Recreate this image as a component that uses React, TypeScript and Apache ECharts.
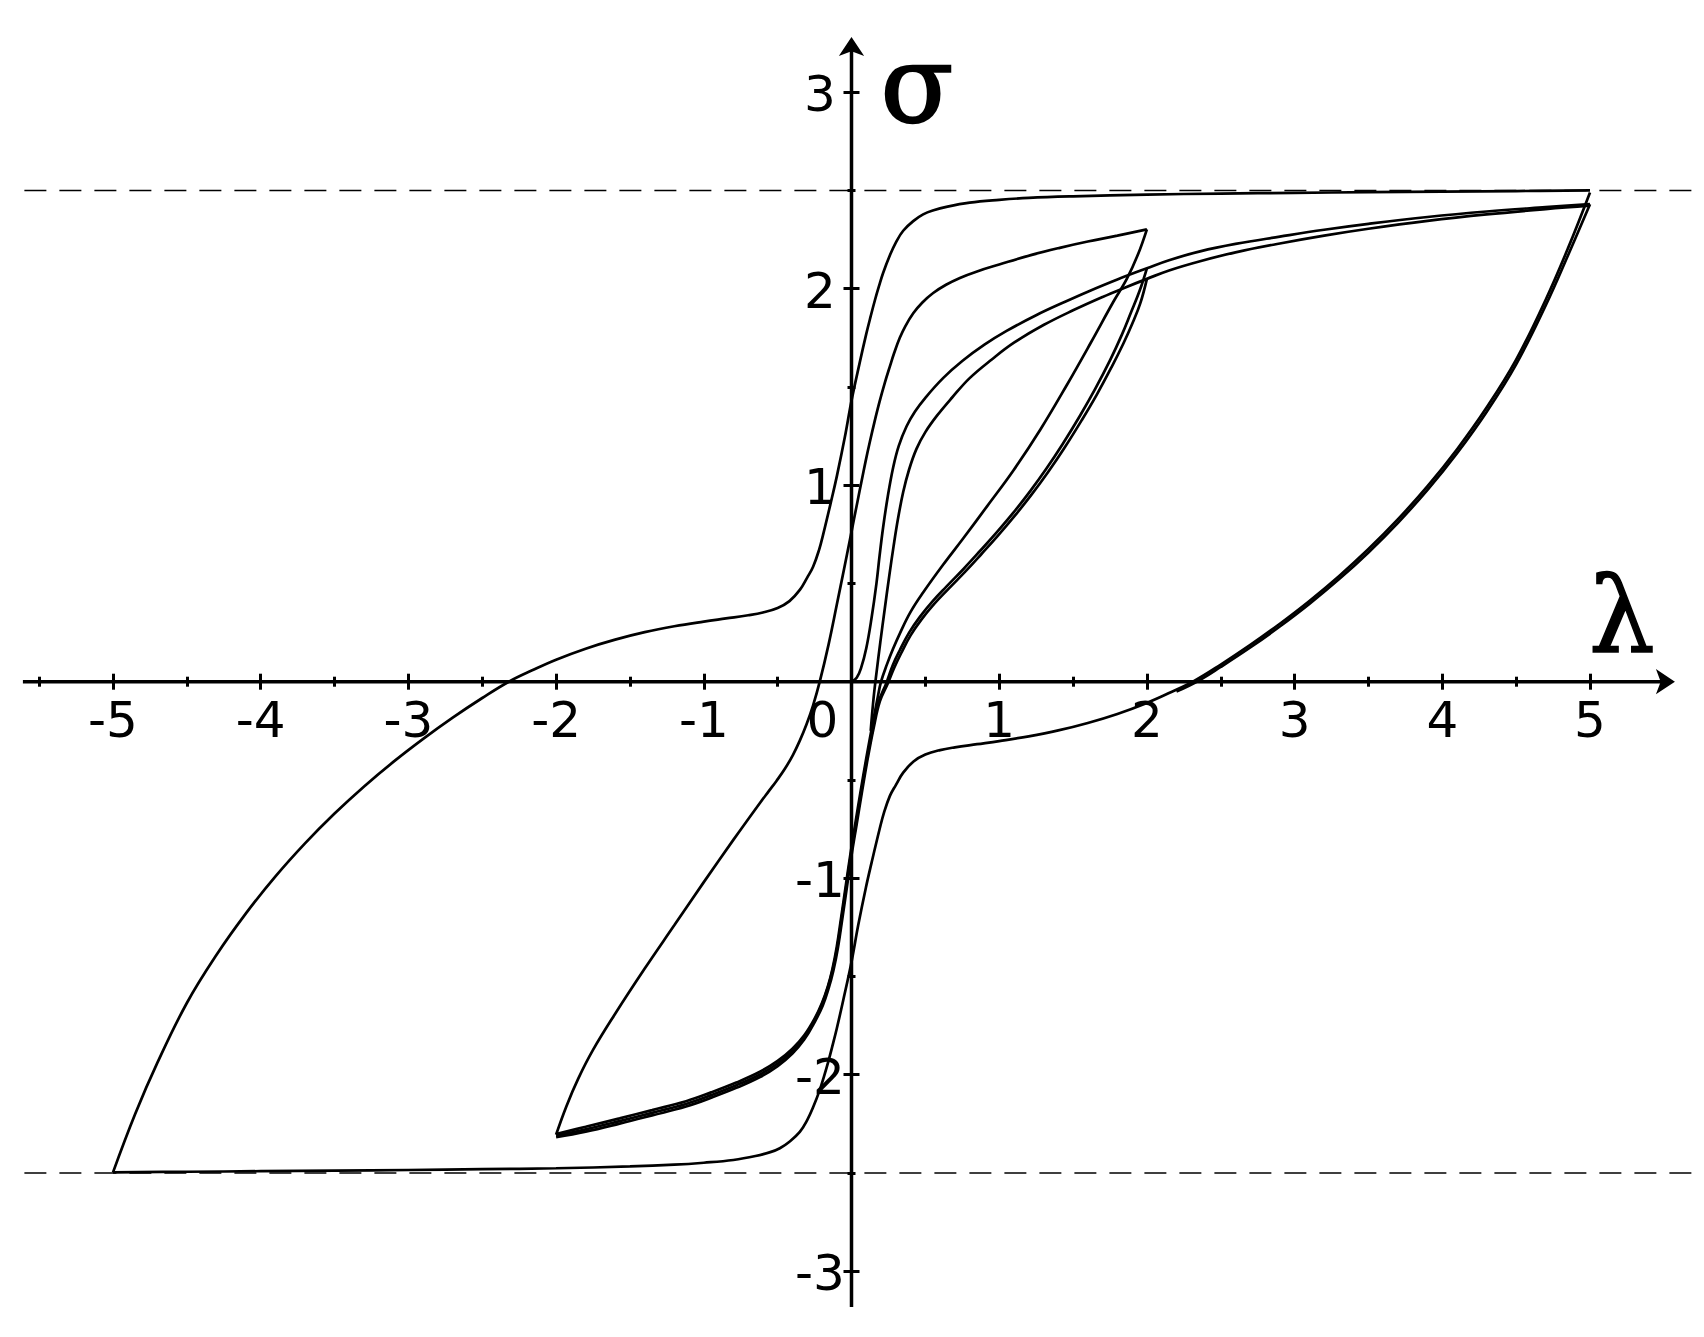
import { useEffect, useRef } from 'react';
import * as echarts from 'echarts';

// ---- axis extents (data units) ----
const X_TICK_RANGE = [-6, 6];
const Y_TICK_RANGE = [-4, 4];
const X_AXIS_LINE = [-5.61, 5.53];
const Y_AXIS_LINE = [-3.182, 3.245];
const X_ARROW_TIP = [5.575, 0];
const Y_ARROW_TIP = [0, 3.281];
const DASH_LEVELS = [2.5, -2.5];
const DASH_SPAN = [-5.6, 6];

// ---- tick labels ----
const X_LABELS = [-5, -4, -3, -2, -1, 1, 2, 3, 4, 5];
const ORIGIN_LABEL = '0';
const Y_LABELS = [-3, -2, -1, 1, 2, 3];

// ---- curves [lambda, sigma] ----
const bigDescending = [
  [5.0, 2.5], [4.5, 2.497], [4.0, 2.494], [3.5, 2.491], [3.0, 2.488], [2.5, 2.484], [2.0, 2.479],
  [1.5, 2.47], [1.2, 2.462], [1.0, 2.452], [0.8, 2.438], [0.65, 2.418], [0.55, 2.398], [0.485, 2.378],
  [0.42, 2.345], [0.35, 2.295], [0.3, 2.235], [0.26, 2.17], [0.214, 2.08], [0.185, 2.01], [0.158, 1.94],
  [0.13, 1.86], [0.1, 1.77], [0.056, 1.625], [0.0, 1.43], [-0.045, 1.245], [-0.098, 1.05], [-0.136, 0.925],
  [-0.19, 0.755], [-0.22, 0.67], [-0.26, 0.585], [-0.3, 0.53], [-0.35, 0.467], [-0.42, 0.41],
  [-0.5, 0.375], [-0.6, 0.352], [-0.7, 0.338], [-0.85, 0.322], [-1.0, 0.306], [-1.2, 0.282],
  [-1.4, 0.252], [-1.6, 0.214], [-1.8, 0.168], [-2.0, 0.112], [-2.15, 0.062], [-2.32, 0.0],
  [-2.5, -0.083], [-2.7, -0.183], [-2.9, -0.291], [-3.1, -0.407], [-3.3, -0.533], [-3.5, -0.671],
  [-3.7, -0.823], [-3.9, -0.991], [-4.1, -1.179], [-4.3, -1.391], [-4.5, -1.635], [-4.7, -1.94],
  [-4.85, -2.2], [-5.0, -2.497],
];

const bigAscending = [
  [-5.0, -2.497], [-4.5, -2.494], [-4.0, -2.491], [-3.5, -2.488], [-3.0, -2.485], [-2.5, -2.481],
  [-2.0, -2.476], [-1.5, -2.467], [-1.2, -2.458], [-1.0, -2.448], [-0.8, -2.434], [-0.65, -2.414],
  [-0.55, -2.394], [-0.485, -2.374], [-0.42, -2.341], [-0.35, -2.291], [-0.3, -2.231], [-0.26, -2.166],
  [-0.214, -2.076], [-0.185, -2.006], [-0.158, -1.936], [-0.13, -1.856], [-0.1, -1.766], [-0.056, -1.621],
  [0.0, -1.426], [0.045, -1.241], [0.098, -1.046], [0.136, -0.921], [0.19, -0.751], [0.22, -0.666],
  [0.26, -0.581], [0.3, -0.526], [0.35, -0.463], [0.42, -0.406], [0.5, -0.371], [0.6, -0.348],
  [0.7, -0.334], [0.85, -0.318], [1.0, -0.302], [1.2, -0.278], [1.4, -0.248], [1.6, -0.21],
  [1.8, -0.164], [2.0, -0.108], [2.15, -0.058], [2.32, 0.004], [2.5, 0.087], [2.7, 0.187], [2.9, 0.295],
  [3.1, 0.411], [3.3, 0.537], [3.5, 0.675], [3.7, 0.827], [3.9, 0.995], [4.1, 1.183], [4.3, 1.395],
  [4.5, 1.639], [4.7, 1.944], [4.85, 2.204], [5.0, 2.49],
];

const bigAscendingRepeat = [
  [2.2, -0.05], [2.35, 0.005], [2.5, 0.075], [2.7, 0.174], [2.9, 0.281], [3.1, 0.396], [3.3, 0.521],
  [3.5, 0.658], [3.7, 0.809], [3.9, 0.976], [4.1, 1.163], [4.3, 1.373], [4.5, 1.615], [4.7, 1.915],
  [4.85, 2.168], [5.0, 2.43],
];

const innerDescending = [
  [2.0, 2.302], [1.8, 2.27], [1.6, 2.24], [1.41, 2.208], [1.22, 2.172], [1.0, 2.123], [0.85, 2.088],
  [0.734, 2.055], [0.64, 2.02], [0.553, 1.978], [0.48, 1.93], [0.418, 1.875], [0.365, 1.81],
  [0.327, 1.75], [0.29, 1.675], [0.26, 1.605], [0.225, 1.52], [0.19, 1.425], [0.155, 1.32], [0.124, 1.22],
  [0.095, 1.12], [0.068, 1.02], [0.04, 0.915], [0.015, 0.82], [-0.01, 0.725], [-0.05, 0.575], [-0.1, 0.39],
  [-0.155, 0.19], [-0.215, 0.0], [-0.26, -0.12], [-0.305, -0.218], [-0.35, -0.3], [-0.396, -0.372],
  [-0.45, -0.442], [-0.508, -0.505], [-0.56, -0.557], [-0.62, -0.617], [-0.8, -0.805], [-1.0, -1.02],
  [-1.2, -1.24], [-1.4, -1.46], [-1.6, -1.69], [-1.75, -1.874], [-1.85, -2.02], [-1.93, -2.16],
  [-2.0, -2.305],
];

const innerAscendingHigh = [
  [-2.0, -2.302], [-1.8, -2.265], [-1.57, -2.222], [-1.35, -2.18], [-1.12, -2.135], [-0.95, -2.09],
  [-0.78, -2.04], [-0.62, -1.985], [-0.5, -1.93], [-0.4, -1.868], [-0.32, -1.8], [-0.25, -1.715],
  [-0.2, -1.635], [-0.16, -1.55], [-0.13, -1.465], [-0.1, -1.35], [-0.07, -1.2], [-0.04, -1.045],
  [-0.01, -0.89], [0.025, -0.725], [0.06, -0.565], [0.1, -0.39], [0.14, -0.225], [0.175, -0.09],
  [0.2, 0.0], [0.24, 0.088], [0.28, 0.165], [0.327, 0.245], [0.4, 0.355], [0.486, 0.455], [0.62, 0.595],
  [0.757, 0.73], [0.92, 0.895], [1.096, 1.075], [1.28, 1.285], [1.458, 1.51], [1.62, 1.725],
  [1.774, 1.935], [1.864, 2.05], [1.94, 2.175], [2.0, 2.302],
];

const innerAscendingMid = [
  [-2.0, -2.31], [-1.8, -2.278], [-1.57, -2.236], [-1.35, -2.194], [-1.12, -2.149], [-0.95, -2.104],
  [-0.78, -2.054], [-0.62, -1.999], [-0.5, -1.943], [-0.4, -1.88], [-0.32, -1.81], [-0.25, -1.724],
  [-0.2, -1.642], [-0.16, -1.556], [-0.127, -1.465], [-0.096, -1.35], [-0.066, -1.2], [-0.036, -1.045],
  [-0.006, -0.89], [0.03, -0.725], [0.065, -0.565], [0.105, -0.39], [0.145, -0.235], [0.185, -0.1],
  [0.237, -0.005], [0.28, 0.085], [0.327, 0.16], [0.39, 0.25], [0.463, 0.33], [0.55, 0.41],
  [0.644, 0.485], [0.76, 0.575], [0.87, 0.665], [0.98, 0.757], [1.096, 0.86], [1.21, 0.97],
  [1.32, 1.085], [1.43, 1.21], [1.548, 1.355], [1.65, 1.49], [1.75, 1.635], [1.83, 1.765],
  [1.89, 1.875], [1.95, 1.988], [2.0, 2.104],
];

const innerAscendingLow = [
  [-2.0, -2.318], [-1.8, -2.29], [-1.57, -2.249], [-1.35, -2.207], [-1.12, -2.162], [-0.95, -2.117],
  [-0.78, -2.067], [-0.62, -2.012], [-0.5, -1.956], [-0.4, -1.892], [-0.32, -1.821], [-0.25, -1.733],
  [-0.195, -1.649], [-0.155, -1.561], [-0.122, -1.468], [-0.091, -1.35], [-0.061, -1.2], [-0.031, -1.045],
  [-0.001, -0.89], [0.035, -0.725], [0.07, -0.565], [0.11, -0.39], [0.15, -0.235], [0.192, -0.1],
  [0.245, -0.01], [0.29, 0.072], [0.337, 0.146], [0.4, 0.236], [0.473, 0.316], [0.56, 0.396],
  [0.655, 0.471], [0.77, 0.56], [0.88, 0.65], [0.99, 0.742], [1.106, 0.845], [1.22, 0.953],
  [1.33, 1.066], [1.44, 1.188], [1.558, 1.33], [1.66, 1.46], [1.76, 1.6], [1.84, 1.72], [1.9, 1.82],
  [1.955, 1.925], [2.0, 2.05],
];

const loadingCurveA = [
  [0.0, 0.0], [0.035, 0.02], [0.065, 0.07], [0.1, 0.17], [0.135, 0.32], [0.169, 0.5], [0.19, 0.64],
  [0.214, 0.785], [0.245, 0.94], [0.282, 1.09], [0.32, 1.2], [0.373, 1.3], [0.43, 1.375], [0.5, 1.445],
  [0.62, 1.545], [0.75, 1.632], [0.9, 1.715], [1.05, 1.785], [1.25, 1.865], [1.45, 1.935], [1.6, 1.985],
  [1.8, 2.047], [2.0, 2.104], [2.15, 2.145], [2.36, 2.19], [2.6, 2.228], [2.9, 2.265], [3.2, 2.3],
  [3.5, 2.33], [3.9, 2.365], [4.3, 2.393], [4.7, 2.415], [5.0, 2.43],
];

const loadingCurveB = [
  [0.13, -0.25], [0.15, -0.08], [0.17, 0.05], [0.195, 0.2], [0.225, 0.37], [0.255, 0.535], [0.285, 0.69],
  [0.315, 0.83], [0.35, 0.965], [0.39, 1.08], [0.44, 1.185], [0.5, 1.27], [0.58, 1.355], [0.68, 1.445],
  [0.8, 1.545], [0.95, 1.64], [1.1, 1.725], [1.3, 1.815], [1.5, 1.89], [1.7, 1.958], [1.85, 2.005],
  [2.0, 2.05], [2.15, 2.093], [2.36, 2.14], [2.6, 2.185], [2.9, 2.23], [3.2, 2.27], [3.5, 2.305],
  [3.9, 2.345], [4.3, 2.378], [4.7, 2.405], [5.0, 2.422],
];

const CURVES = [
  bigDescending, bigAscending, bigAscendingRepeat, innerDescending,
  innerAscendingHigh, innerAscendingMid, innerAscendingLow, loadingCurveA, loadingCurveB,
];

// pixel layout
const ORIGIN_X = 851.5;
const ORIGIN_Y = 681.7;
const PX_X = 147.7;
const PX_Y = 196.5;

const BLACK = '#000';
const LABEL_FONT = 'DejaVu Sans';
const CLEAR = 'rgba(0,0,0,0)';

export default function App() {
  const ref = useRef<HTMLDivElement>(null);

  useEffect(() => {
    document.body.style.margin = '0';
    const chart = echarts.init(ref.current!, null, { renderer: 'svg' });

    const gridLeft = ORIGIN_X + X_TICK_RANGE[0] * PX_X;
    const gridWidth = (X_TICK_RANGE[1] - X_TICK_RANGE[0]) * PX_X;
    const gridTop = ORIGIN_Y - Y_TICK_RANGE[1] * PX_Y;
    const gridHeight = (Y_TICK_RANGE[1] - Y_TICK_RANGE[0]) * PX_Y;

    const tickStyle = { color: BLACK, width: 3 };

    const xBase = {
      type: 'value', min: X_TICK_RANGE[0], max: X_TICK_RANGE[1], interval: 1,
      position: 'bottom', splitLine: { show: false }, axisLabel: { show: false },
    };
    const yBase = {
      type: 'value', min: Y_TICK_RANGE[0], max: Y_TICK_RANGE[1], interval: 1,
      position: 'left', splitLine: { show: false }, axisLabel: { show: false },
    };

    const curveSeries = CURVES.map((d) => ({
      type: 'line', data: d, symbol: 'none', showSymbol: false, smooth: 0.4,
      lineStyle: { color: BLACK, width: 2.7 }, silent: true, z: 3,
      xAxisIndex: 0, yAxisIndex: 0,
    }));

    const dashSeries = DASH_LEVELS.map((lv) => ({
      type: 'line', data: [[DASH_SPAN[0], lv], [DASH_SPAN[1], lv]], symbol: 'none', showSymbol: false,
      lineStyle: { color: BLACK, width: 1.6, type: [22, 13] }, silent: true, z: 2,
      xAxisIndex: 0, yAxisIndex: 0,
    }));

    const axisLineSeries = [
      {
        type: 'line', data: [[X_AXIS_LINE[0], 0], [X_AXIS_LINE[1], 0]], symbol: 'none', showSymbol: false,
        lineStyle: { color: BLACK, width: 3.5 }, silent: true, z: 4, xAxisIndex: 0, yAxisIndex: 0,
      },
      {
        type: 'line', data: [[0, Y_AXIS_LINE[0]], [0, Y_AXIS_LINE[1]]], symbol: 'none', showSymbol: false,
        lineStyle: { color: BLACK, width: 3.5 }, silent: true, z: 4, xAxisIndex: 0, yAxisIndex: 0,
      },
      {
        type: 'scatter', silent: true, z: 5, xAxisIndex: 0, yAxisIndex: 0,
        symbol: 'arrow', symbolSize: [19, 19], itemStyle: { color: BLACK, opacity: 1 },
        data: [
          { value: X_ARROW_TIP, symbolRotate: -90 },
          { value: Y_ARROW_TIP, symbolRotate: 0 },
        ],
      },
    ];

    const labelText = {
      color: BLACK, fontFamily: LABEL_FONT, fontSize: 50, opacity: 1,
      textBorderWidth: 0, textBorderColor: 'transparent', textShadowBlur: 0,
    };

    const labelSeries = [
      {
        type: 'scatter', symbol: 'circle', symbolSize: 1, itemStyle: { color: CLEAR, opacity: 1 },
        silent: true, z: 5, xAxisIndex: 0, yAxisIndex: 0,
        data: [
          ...X_LABELS.map((v) => ({ value: [v, 0], label: { formatter: String(v), offset: [0, 38] } })),
          { value: [0, 0], label: { formatter: ORIGIN_LABEL, offset: [-29, 38] } },
          ...Y_LABELS.map((v) => ({ value: [0, v], label: { formatter: String(v), offset: [-31.5, 2] } })),
        ],
        label: { show: true, position: 'inside', ...labelText },
      },
    ];

    const option = {
      animation: false,
      backgroundColor: '#fff',
      grid: {
        left: gridLeft, top: gridTop, width: gridWidth, height: gridHeight,
        containLabel: false, outerBoundsMode: 'none',
      },
      xAxis: [
        {
          ...xBase,
          axisLine: { show: false, onZero: true, onZeroAxisIndex: 0 },
          axisTick: { show: true, length: 8, lineStyle: tickStyle },
          minorTick: { show: true, splitNumber: 2, length: 5, lineStyle: tickStyle },
        },
        {
          ...xBase,
          axisLine: { show: false, onZero: true, onZeroAxisIndex: 1 },
          axisTick: { show: true, inside: true, length: 8, lineStyle: tickStyle },
          minorTick: { show: true, splitNumber: 2, length: 5, lineStyle: tickStyle },
        },
      ],
      yAxis: [
        {
          ...yBase,
          axisLine: { show: false, onZero: true, onZeroAxisIndex: 0 },
          axisTick: { show: true, length: 8, lineStyle: tickStyle },
          minorTick: { show: true, splitNumber: 2, length: 4, lineStyle: tickStyle },
        },
        {
          ...yBase,
          axisLine: { show: false, onZero: true, onZeroAxisIndex: 1 },
          axisTick: { show: true, inside: true, length: 8, lineStyle: tickStyle },
          minorTick: { show: true, splitNumber: 2, length: 4, lineStyle: tickStyle },
        },
      ],
      graphic: [
        {
          type: 'text', x: 917, y: 84, silent: true,
          style: {
            text: 'σ', font: '106px "DejaVu Serif"', fill: BLACK, stroke: BLACK, lineWidth: 2.5,
            textAlign: 'center', textVerticalAlign: 'middle',
          },
        },
        {
          type: 'text', x: 1622, y: 616, silent: true,
          style: {
            text: 'λ', font: '104px "DejaVu Serif"', fill: BLACK, stroke: BLACK, lineWidth: 1.5,
            textAlign: 'center', textVerticalAlign: 'middle',
          },
        },
      ],
      series: [...dashSeries, ...curveSeries, ...axisLineSeries, ...labelSeries],
    };

    chart.setOption(option as any);
    return () => chart.dispose();
  }, []);

  return (
    <div
      ref={ref}
      style={{ position: 'fixed', left: 0, top: 0, width: 1704, height: 1337, background: '#fff' }}
    />
  );
}
